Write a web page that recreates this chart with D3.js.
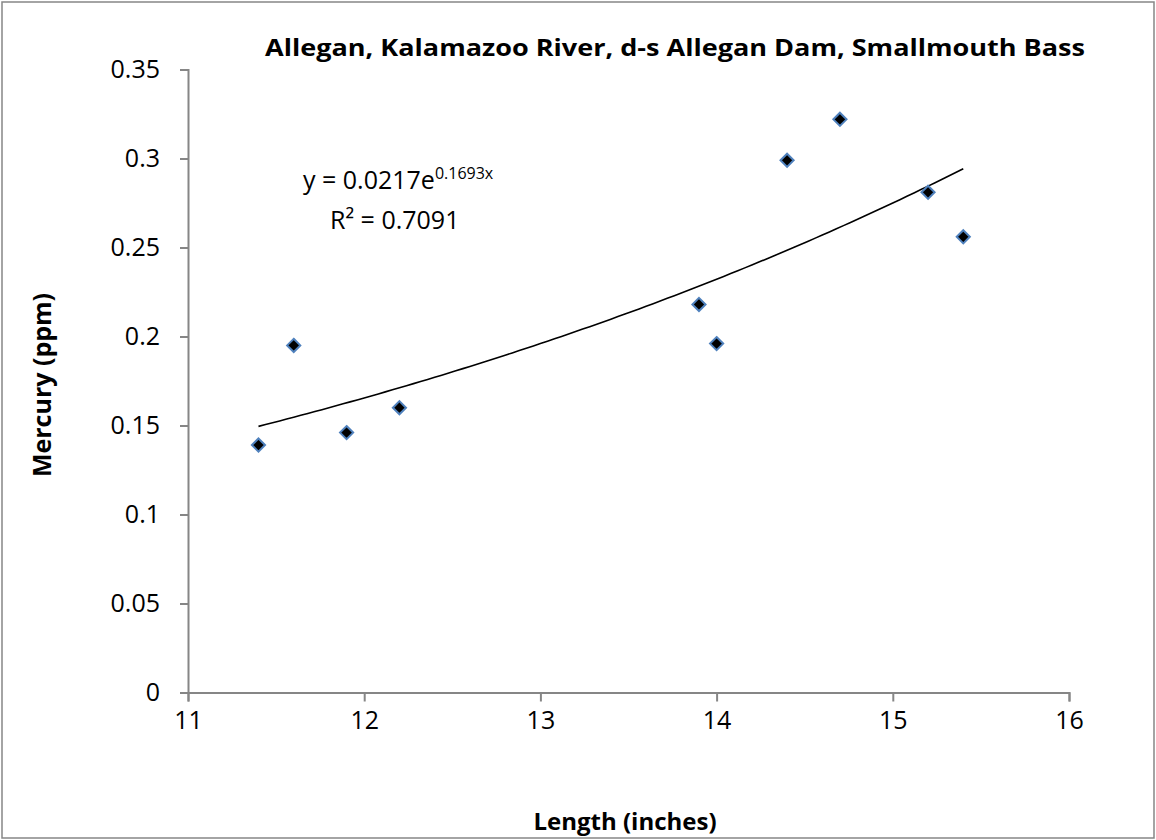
<!DOCTYPE html>
<html>
<head>
<meta charset="utf-8">
<script src="https://cdn.jsdelivr.net/npm/d3@7"></script>
<style>
  html, body { margin: 0; padding: 0; background: #fff; }
  svg { display: block; }
  text { font-family: "Open Sans", "Noto Sans", sans-serif; fill: #000; }
</style>
</head>
<body>
<script>
const lengths = [11.4, 11.6, 11.9, 12.2, 13.9, 14.0, 14.4, 14.7, 15.2, 15.4];
const mercury = [0.139, 0.195, 0.146, 0.160, 0.218, 0.196, 0.299, 0.322, 0.281, 0.256];
const xTicks = [11, 12, 13, 14, 15, 16];
const yTicks = [0, 0.05, 0.1, 0.15, 0.2, 0.25, 0.3, 0.35];
const yTickLabels = ["0", "0.05", "0.1", "0.15", "0.2", "0.25", "0.3", "0.35"];
const trendA = 0.0217, trendB = 0.1693;
const titleText = "Allegan, Kalamazoo River, d-s Allegan Dam, Smallmouth Bass";

const W = 1156, H = 840;
const svg = d3.select("body").append("svg").attr("width", W).attr("height", H);

svg.append("rect").attr("x", 2).attr("y", 2).attr("width", W - 4).attr("height", H - 4)
  .attr("fill", "#fff").attr("stroke", "#868686").attr("stroke-width", 1.5);

const x = d3.scaleLinear().domain([11, 16]).range([188, 1069]);
const y = d3.scaleLinear().domain([0, 0.35]).range([692.5, 69.5]);

const axisColor = "#868686";

// X axis
const gx = svg.append("g").attr("transform", `translate(0,${y(0)})`)
  .call(d3.axisBottom(x).tickValues(xTicks).tickSize(9).tickPadding(10).tickFormat(d3.format("d")));
gx.select(".domain").attr("stroke", axisColor).attr("stroke-width", 2);
gx.selectAll(".tick line").attr("stroke", axisColor).attr("stroke-width", 2);
gx.selectAll(".tick text").attr("font-size", 25).attr("font-family", "Open Sans, sans-serif").attr("fill", "#000");

// Y axis
const gy = svg.append("g").attr("transform", `translate(${x(11)},0)`)
  .call(d3.axisLeft(y).tickValues(yTicks).tickSize(8).tickPadding(20).tickFormat((d, i) => yTickLabels[i]));
gy.select(".domain").attr("stroke", axisColor).attr("stroke-width", 2);
gy.selectAll(".tick line").attr("stroke", axisColor).attr("stroke-width", 2);
gy.selectAll(".tick text").attr("font-size", 25).attr("font-family", "Open Sans, sans-serif").attr("fill", "#000");

// Trendline (from the displayed exponential fit)
const tx = d3.range(0, 101).map(i => 11.4 + (15.4 - 11.4) * i / 100);
const line = d3.line().x(d => x(d)).y(d => y(trendA * Math.exp(trendB * d)));
svg.append("path").datum(tx).attr("d", line).attr("fill", "none")
  .attr("stroke", "#000").attr("stroke-width", 1.6);

// Points
const diamond = d3.symbol().type(d3.symbolDiamond2).size(110);
svg.append("g").selectAll("path").data(lengths.map((l, i) => [l, mercury[i]])).join("path")
  .attr("d", diamond)
  .attr("transform", d => `translate(${x(d[0])},${y(d[1])})`)
  .attr("fill", "#000").attr("stroke", "#4f81bd").attr("stroke-width", 2);

// Title
svg.append("text").attr("x", 265).attr("y", 56).attr("font-size", 24).attr("font-weight", "bold")
  .attr("textLength", 820).attr("lengthAdjust", "spacingAndGlyphs").text(titleText);

// Equation
const eq = svg.append("text").attr("x", 303).attr("y", 189).attr("font-size", 25);
eq.append("tspan").text("y = 0.0217e");
eq.append("tspan").attr("font-size", 16).attr("dy", -10).text("0.1693x");
svg.append("text").attr("x", 330).attr("y", 229).attr("font-size", 25).text("R² = 0.7091");

// Axis titles
svg.append("text").attr("transform", "translate(51,385) rotate(-90)").attr("text-anchor", "middle")
  .attr("font-size", 25).attr("font-weight", "bold").text("Mercury (ppm)");
svg.append("text").attr("x", 625).attr("y", 830).attr("text-anchor", "middle")
  .attr("font-size", 24).attr("font-weight", "bold").text("Length (inches)");
</script>
</body>
</html>
